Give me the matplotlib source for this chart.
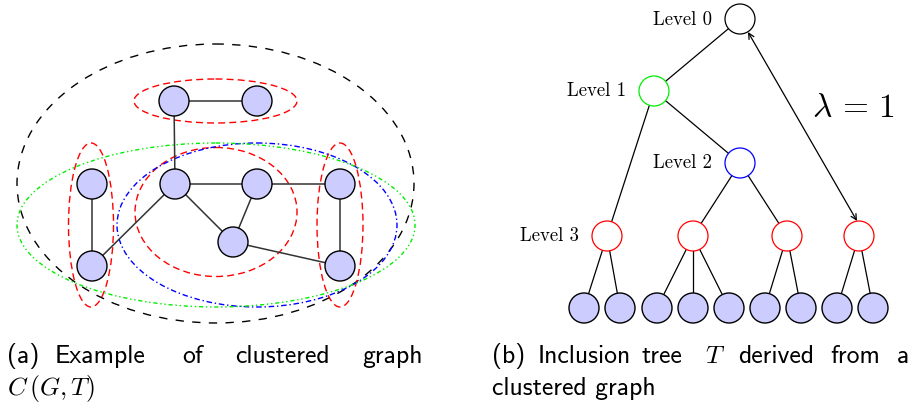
import matplotlib
matplotlib.use("Agg")
import matplotlib.pyplot as plt
from matplotlib.patches import Circle, Ellipse

plt.rcParams['mathtext.fontset'] = 'cm'

# --- (a) clustered graph -------------------------------------------------
graph_nodes = {
    'a': (174, 101), 'b': (257, 101),
    'c': (92, 184), 'd': (175, 184), 'e': (257, 184), 'f': (340, 184),
    'g': (233, 242),
    'h': (92, 266), 'i': (340, 266),
}
graph_edges = [('a', 'b'), ('a', 'd'), ('d', 'e'), ('e', 'f'), ('f', 'i'),
               ('d', 'g'), ('e', 'g'), ('g', 'i'), ('c', 'h'), ('h', 'd')]

# clusters: centre x, centre y, width, height, colour, line style
clusters = [
    (215.5, 183.5, 397, 279, 'black', (0, (6, 6))),
    (215.5, 101, 163, 44, 'red', (0, (5, 3))),
    (216, 212, 162, 129, 'red', (0, (5, 3))),
    (91, 225, 45, 164, 'red', (0, (5, 3))),
    (340, 225, 46, 164, 'red', (0, (5, 3))),
    (257, 225, 280, 164, 'blue', (0, (4, 2, 1, 2))),
    (216, 225, 398, 164, '#00ee00', (0, (3, 2, 1, 2, 1, 2))),
]

# --- (b) inclusion tree --------------------------------------------------
tree_nodes = {
    'L0': (740, 19), 'L1': (654, 91), 'L2': (740, 163),
    'A': (607, 236), 'B': (693, 236), 'C': (787, 236), 'D': (859, 236),
}
tree_colors = {'L0': 'black', 'L1': '#00ee00', 'L2': 'blue',
               'A': 'red', 'B': 'red', 'C': 'red', 'D': 'red'}
tree_edges = [('L0', 'L1'), ('L1', 'A'), ('L1', 'L2'), ('L2', 'B'), ('L2', 'C')]
leaf_x = [584, 620, 657, 693, 729, 765, 801, 837, 873]
leaf_y = 308
leaf_parent = ['A', 'A', 'B', 'B', 'B', 'C', 'C', 'D', 'D']

level_labels = ['Level 0', 'Level 1', 'Level 2', 'Level 3']
level_anchor = [(712, 20), (626, 91), (712, 163), (579, 236)]

node_r = 15
node_fill = '#ccccff'

fig = plt.figure(figsize=(9.12, 4.03), dpi=100)
ax = fig.add_axes([0, 0, 1, 1])
ax.set_xlim(0, 912)
ax.set_ylim(403, 0)
ax.set_aspect('equal')
ax.axis('off')

for cx, cy, w, h, col, ls in clusters:
    ax.add_patch(Ellipse((cx, cy), w, h, fill=False, edgecolor=col,
                         linestyle=ls, lw=1.0, zorder=1))

for u, v in graph_edges:
    (x1, y1), (x2, y2) = graph_nodes[u], graph_nodes[v]
    ax.plot([x1, x2], [y1, y2], color='#333333', lw=1.1, zorder=2)

for x, y in graph_nodes.values():
    ax.add_patch(Circle((x, y), node_r, facecolor=node_fill,
                        edgecolor='black', lw=1.0, zorder=3))

for u, v in tree_edges:
    (x1, y1), (x2, y2) = tree_nodes[u], tree_nodes[v]
    ax.plot([x1, x2], [y1, y2], color='black', lw=0.9, zorder=2)

for lx, p in zip(leaf_x, leaf_parent):
    px, py = tree_nodes[p]
    ax.plot([px, lx], [py, leaf_y], color='black', lw=0.9, zorder=2)

for k, (x, y) in tree_nodes.items():
    ax.add_patch(Circle((x, y), node_r, facecolor='white',
                        edgecolor=tree_colors[k], lw=0.9, zorder=3))

for lx in leaf_x:
    ax.add_patch(Circle((lx, leaf_y), node_r, facecolor=node_fill,
                        edgecolor='black', lw=1.0, zorder=3))

for txt, (x, y) in zip(level_labels, level_anchor):
    ax.text(x, y, txt, family='cmr10', fontsize=13.5, ha='right', va='center')

# distance between root and the detached cluster
ax.annotate('', xy=(857, 221), xytext=(748, 32),
            arrowprops=dict(arrowstyle='<->', color='black', lw=0.9,
                            shrinkA=0, shrinkB=0, mutation_scale=10))
ax.text(812, 117, r'$\lambda\,=\,1$', fontsize=24, ha='left', va='baseline')

# --- captions ------------------------------------------------------------
cap_font = dict(family='cmss10', fontsize=18.5, va='baseline')
cap_a = [('(a)', 7), ('Example', 55), ('of', 182), ('clustered', 235), ('graph', 362)]
cap_b = [('(b)', 492), ('Inclusion', 538), ('tree', 642), ('$T$', 705),
         ('derived', 738), ('from', 830), ('a', 897)]
for word, x in cap_a + cap_b:
    ax.text(x, 363, word, **cap_font)
ax.text(7, 395, r'$C\,(G,T)$', **cap_font)
ax.text(492, 395, 'clustered graph', **cap_font)

fig.savefig('out.png', dpi=100)
